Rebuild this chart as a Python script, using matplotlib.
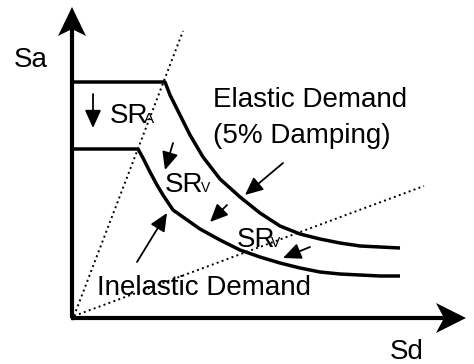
import matplotlib
matplotlib.use("Agg")
import matplotlib.pyplot as plt
from matplotlib.patches import FancyArrowPatch, Polygon

plt.rcParams['font.family'] = ['Liberation Sans', 'DejaVu Sans']

# ---- data (Sd, Sa in drawing units) ----
elastic_sd = [0, 93, 98, 108, 118, 131, 148, 168, 188, 208, 228, 248, 268, 288, 308, 328]
elastic_sa = [236, 236, 223, 203, 183, 161, 139, 121, 105, 92, 84, 79, 75, 72, 71, 70]

inelastic_sd = [0, 66, 71, 78, 85, 91, 101, 128, 148, 168, 188, 208, 228, 248, 268, 288, 308, 328]
inelastic_sa = [169, 169, 160, 146, 133, 123, 108, 89, 78, 68, 61, 55, 50, 46, 44, 43, 42, 42]

period_line1_sd = [2, 111]
period_line1_sa = [2, 287]
period_line2_sd = [2, 352]
period_line2_sa = [2, 132]

axis_x_end = 394
axis_y_end = 311

# small arrows: (start_sd, start_sa, end_sd, end_sa)
arrows = [
    (21, 224, 21, 190),
    (101, 175, 93, 148),
    (211, 155, 173, 123),
    (155, 113, 138, 96),
    (238, 71, 211, 60),
    (65, 56, 95, 105),
]

# labels: (text, sd, sa, size)
labels = [
    ("Sa", -58, 251, 20),
    ("Sd", 318, -41, 20),
    ("Elastic Demand", 141, 211, 20),
    ("(5% Damping)", 141, 175, 20),
    ("Inelastic Demand", 25, 23, 20),
    ("SR", 38, 195, 20),
    ("A", 72, 195, 11),
    ("SR", 93, 126, 20),
    ("V", 129, 126, 10),
    ("SR", 165, 71, 20),
    ("V", 199, 71, 10),
]

fig = plt.figure(figsize=(4.74, 3.64), dpi=100)
ax = fig.add_axes([0, 0, 1, 1])
ax.set_xlim(-72, 402)
ax.set_ylim(-46, 318)
ax.axis('off')

# axes lines
ax.plot([0, axis_x_end - 20], [0, 0], color='black', lw=3, solid_capstyle='butt')
ax.plot([0, 0], [0, axis_y_end - 20], color='black', lw=3, solid_capstyle='butt')
ax.plot([0], [0], marker='s', ms=2, color='black')

def stealth(tip, direction, L=30, W=15, notch=22):
    tx, ty = tip
    dx, dy = direction
    px, py = -dy, dx
    pts = [
        (tx, ty),
        (tx - dx * L + px * W, ty - dy * L + py * W),
        (tx - dx * notch, ty - dy * notch),
        (tx - dx * L - px * W, ty - dy * L - py * W),
    ]
    ax.add_patch(Polygon(pts, closed=True, color='black', lw=0))

stealth((axis_x_end, 0), (1, 0))
stealth((0, axis_y_end), (0, 1), L=29, W=14, notch=22)

# dotted lines
ax.plot(period_line1_sd, period_line1_sa, color='black', lw=1.4, linestyle=(0, (1, 1.7)))
ax.plot(period_line2_sd, period_line2_sa, color='black', lw=1.4, linestyle=(0, (1, 1.7)))

# demand curves
ax.plot(elastic_sd, elastic_sa, color='black', lw=2.5, solid_joinstyle='round', solid_capstyle='butt')
ax.plot(inelastic_sd, inelastic_sa, color='black', lw=2.5, solid_joinstyle='round', solid_capstyle='butt')

for x0, y0, x1, y1 in arrows:
    ax.add_patch(FancyArrowPatch((x0, y0), (x1, y1),
                                 arrowstyle='-|>,head_length=1.55,head_width=0.7',
                                 mutation_scale=7, color='black', lw=1.3,
                                 shrinkA=0, shrinkB=0))

for t, x, y, s in labels:
    ax.text(x, y, t, fontsize=s, ha='left', va='baseline', color='black')

fig.savefig('out.png', dpi=100)
